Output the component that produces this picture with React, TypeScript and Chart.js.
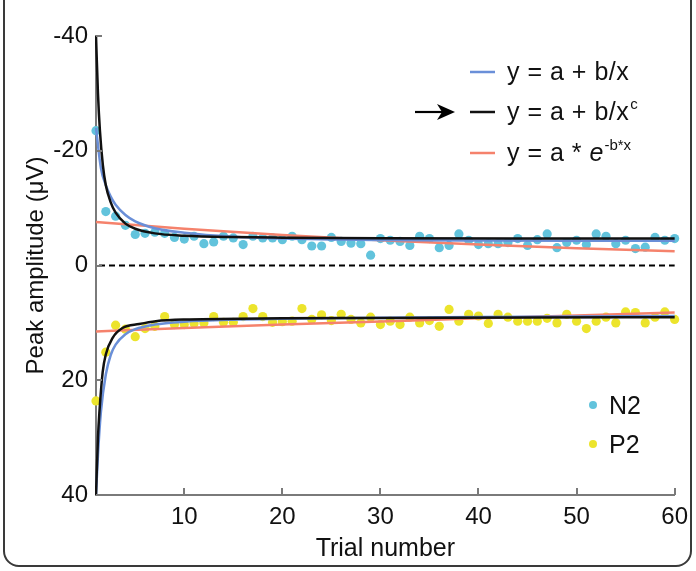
import React, { useEffect, useRef } from "react";
import { Chart, registerables } from "chart.js";

Chart.register(...registerables);

const trials = [
  1, 2, 3, 4, 5, 6, 7, 8, 9, 10, 11, 12, 13, 14, 15, 16, 17, 18, 19, 20,
  21, 22, 23, 24, 25, 26, 27, 28, 29, 30, 31, 32, 33, 34, 35, 36, 37, 38, 39, 40,
  41, 42, 43, 44, 45, 46, 47, 48, 49, 50, 51, 52, 53, 54, 55, 56, 57, 58, 59, 60,
];

const n2Values = [
  -23.5, -9.4, -8.6, -7.0, -5.4, -5.6, -5.8, -5.6, -4.9, -4.6,
  -5.1, -3.8, -4.1, -5.1, -4.8, -3.65, -5.1, -4.8, -4.8, -4.5,
  -5.1, -4.5, -3.4, -3.4, -4.9, -4.2, -3.9, -3.8, -1.8, -4.7,
  -4.4, -4.2, -3.5, -5.1, -4.7, -3.1, -3.5, -5.5, -4.4, -3.65,
  -3.8, -3.8, -4.0, -4.7, -3.5, -4.5, -5.5, -3.1, -4.0, -4.4,
  -3.65, -5.5, -5.1, -3.8, -4.4, -2.95, -3.2, -4.9, -4.4, -4.7,
];

const p2Values = [
  23.6, 15.1, 10.4, 11.1, 12.4, 11.0, 10.6, 8.9, 10.3, 10.3,
  10.1, 10.0, 8.9, 9.9, 9.9, 8.9, 7.5, 8.9, 9.9, 9.8,
  9.7, 7.5, 9.4, 8.6, 9.6, 8.5, 9.4, 10.0, 9.0, 10.3,
  9.7, 10.3, 9.0, 10.0, 9.6, 10.6, 7.65, 9.7, 8.5, 8.8,
  10.1, 8.5, 9.0, 9.7, 9.7, 9.7, 9.2, 10.0, 8.5, 9.7,
  11.0, 9.7, 9.0, 10.0, 8.1, 8.2, 10.0, 9.0, 8.1, 9.4,
];

// fitted curves at sample trial positions
const powerN2X = [1, 1.2, 1.4, 1.7, 2, 2.5, 3, 4, 5, 7, 10, 15, 20, 30, 45, 60];
const powerN2Y = [-40, -30, -23.5, -17.5, -14, -11, -9.2, -7.3, -6.4, -5.6, -5.2, -4.95, -4.85, -4.75, -4.7, -4.7];

const hyperN2X = [1, 1.5, 2, 2.5, 3, 4, 5, 7, 10, 15, 20, 30, 40, 50, 60];
const hyperN2Y = [-24, -17, -14, -12, -10.6, -8.8, -7.7, -6.5, -5.7, -5.0, -4.7, -4.45, -4.35, -4.3, -4.3];

const expN2X = [1, 10, 20, 30, 40, 50, 60];
const expN2Y = [-7.6, -6.4, -5.3, -4.4, -3.65, -3.0, -2.5];

const powerP2X = [1, 1.2, 1.35, 1.68, 2, 2.7, 3.7, 5.4, 7.1, 10.5, 20, 30, 45, 60];
const powerP2Y = [40, 30, 25.5, 18.6, 15.5, 12.6, 10.9, 10.2, 9.7, 9.4, 9.2, 9.15, 9.05, 9.0];

const hyperP2X = [1, 1.2, 1.5, 2, 2.5, 3, 4, 5, 7, 10, 15, 20, 30, 45, 60];
const hyperP2Y = [40, 33, 25.5, 19, 15.6, 13.8, 12.0, 11.1, 10.3, 9.8, 9.45, 9.3, 9.1, 8.95, 8.8];

const expP2X = [1, 10, 20, 30, 40, 50, 60];
const expP2Y = [11.5, 10.9, 10.3, 9.75, 9.2, 8.7, 8.2];

const xTickValues = [10, 20, 30, 40, 50, 60];
const yTickValues = [-40, -20, 0, 20, 40];

const legendFits = ["y = a + b/x", "y = a + b/x", "y = a * "];
const seriesNames = ["N2", "P2"];

const COL_N2 = "#62c3dc";
const COL_P2 = "#ece42c";
const COL_BLUE = "#6a8fd8";
const COL_BLACK = "#111111";
const COL_RED = "#f5826c";
const AXIS_COL = "#7a7a7a";
const FONT = '"Liberation Sans", Arial, Helvetica, sans-serif';

const pts = (xs: number[], ys: number[]) => xs.map((x, i) => ({ x, y: ys[i] }));

const decorPlugin = {
  id: "decor",
  beforeDatasetsDraw(chart: any) {
    const { ctx, chartArea, scales } = chart;
    const y0 = scales.y.getPixelForValue(0);
    ctx.save();
    ctx.strokeStyle = "#000";
    ctx.lineWidth = 2;
    ctx.setLineDash([6, 4]);
    ctx.beginPath();
    ctx.moveTo(chartArea.left + 3, y0);
    ctx.lineTo(chartArea.right, y0);
    ctx.stroke();
    ctx.restore();
  },
  afterDraw(chart: any) {
    const { ctx, chartArea, scales } = chart;
    ctx.save();
    // inward ticks
    ctx.strokeStyle = AXIS_COL;
    ctx.lineWidth = 2;
    ctx.beginPath();
    yTickValues.forEach((v) => {
      const py = Math.round(scales.y.getPixelForValue(v));
      ctx.moveTo(chartArea.left, py);
      ctx.lineTo(chartArea.left + 6, py);
    });
    xTickValues.forEach((v) => {
      const px = Math.round(scales.x.getPixelForValue(v));
      ctx.moveTo(px, chartArea.bottom);
      ctx.lineTo(px, chartArea.bottom - 7);
    });
    ctx.stroke();

    // fit legend
    const rows = [
      { y: 72, color: COL_BLUE },
      { y: 112, color: COL_BLACK },
      { y: 153, color: COL_RED },
    ];
    const fsz = 25;
    ctx.textBaseline = "alphabetic";
    ctx.textAlign = "left";
    rows.forEach((r, i) => {
      ctx.strokeStyle = r.color;
      ctx.lineWidth = 2.5;
      ctx.beginPath();
      ctx.moveTo(470, r.y);
      ctx.lineTo(495, r.y);
      ctx.stroke();
      ctx.fillStyle = "#111";
      ctx.font = `${fsz}px ${FONT}`;
      (ctx as any).letterSpacing = "0.5px";
      const base = r.y + 8;
      const txt = legendFits[i];
      ctx.fillText(txt, 507, base);
      const w = ctx.measureText(txt).width;
      (ctx as any).letterSpacing = "0px";
      if (i === 1) {
        ctx.font = `15px ${FONT}`;
        ctx.fillText("c", 507 + w + 1, base - 11);
      }
      if (i === 2) {
        ctx.font = `italic ${fsz}px ${FONT}`;
        ctx.fillText("e", 507 + w, base);
        const we = ctx.measureText("e").width;
        ctx.font = `15px ${FONT}`;
        ctx.fillText("-b*x", 507 + w + we + 1, base - 11);
      }
    });
    // arrow
    ctx.strokeStyle = "#000";
    ctx.fillStyle = "#000";
    ctx.lineWidth = 2.2;
    ctx.beginPath();
    ctx.moveTo(415, 112);
    ctx.lineTo(442, 112);
    ctx.stroke();
    ctx.beginPath();
    ctx.moveTo(455, 112);
    ctx.lineTo(437, 104);
    ctx.lineTo(442, 112);
    ctx.lineTo(437, 120);
    ctx.closePath();
    ctx.fill();

    // series legend
    const srows = [
      { y: 405, color: COL_N2 },
      { y: 444, color: COL_P2 },
    ];
    srows.forEach((r, i) => {
      ctx.fillStyle = r.color;
      ctx.beginPath();
      ctx.arc(593, r.y, 4, 0, Math.PI * 2);
      ctx.fill();
      ctx.fillStyle = "#111";
      ctx.font = `25px ${FONT}`;
      ctx.fillText(seriesNames[i], 609, r.y + 9);
    });
    ctx.restore();
  },
};

export default function App() {
  const ref = useRef<HTMLCanvasElement | null>(null);
  useEffect(() => {
    if (!ref.current) return;
    const lineDs = (label: string, data: any[], color: string, order: number) => ({
      label,
      data,
      showLine: true,
      borderColor: color,
      backgroundColor: color,
      borderWidth: 2.5,
      pointRadius: 0,
      cubicInterpolationMode: "monotone",
      order,
      clip: 1,
    });
    const chart = new Chart(ref.current, {
      type: "scatter",
      data: {
        datasets: [
          lineDs("pow N2", pts(powerN2X, powerN2Y), COL_BLACK, 0),
          lineDs("pow P2", pts(powerP2X, powerP2Y), COL_BLACK, 0),
          lineDs("hyp N2", pts(hyperN2X, hyperN2Y), COL_BLUE, 1),
          lineDs("hyp P2", pts(hyperP2X, hyperP2Y), COL_BLUE, 1),
          lineDs("exp N2", pts(expN2X, expN2Y), COL_RED, 2),
          lineDs("exp P2", pts(expP2X, expP2Y), COL_RED, 2),
          {
            label: "N2",
            data: pts(trials, n2Values),
            backgroundColor: COL_N2,
            borderWidth: 0,
            pointRadius: 4.6,
            order: 3,
            clip: false,
          },
          {
            label: "P2",
            data: pts(trials, p2Values),
            backgroundColor: COL_P2,
            borderWidth: 0,
            pointRadius: 4.6,
            order: 3,
            clip: false,
          },
        ] as any,
      },
      options: {
        animation: false,
        responsive: false,
        maintainAspectRatio: false,
        layout: { padding: { left: 0, right: 20, top: 36, bottom: 0 } },
        plugins: { legend: { display: false }, tooltip: { enabled: false } },
        scales: {
          x: {
            type: "linear",
            min: 1,
            max: 60,
            grid: { display: false, drawTicks: false },
            border: { display: true, color: AXIS_COL, width: 2 },
            afterBuildTicks: (s: any) => {
              s.ticks = xTickValues.map((v) => ({ value: v }));
            },
            afterFit: (s: any) => {
              s.height = 76;
            },
            ticks: {
              color: "#111",
              font: { family: FONT, size: 24 },
              padding: 8,
              maxRotation: 0,
              autoSkip: false,
            },
            title: {
              display: true,
              text: "Trial number",
              color: "#111",
              font: { family: FONT, size: 25 },
              padding: { top: 0, bottom: 7 },
            },
          },
          y: {
            type: "linear",
            min: -40,
            max: 40,
            reverse: true,
            grid: { display: false, drawTicks: false },
            border: { display: true, color: AXIS_COL, width: 2 },
            afterBuildTicks: (s: any) => {
              s.ticks = yTickValues.map((v) => ({ value: v }));
            },
            afterFit: (s: any) => {
              s.width = 96;
            },
            ticks: {
              color: "#111",
              font: { family: FONT, size: 24 },
              padding: 8,
              autoSkip: false,
            },
            title: {
              display: true,
              text: "Peak amplitude (μV)",
              color: "#111",
              font: { family: FONT, size: 24 },
              padding: { top: 22, bottom: 0 },
            },
          },
        },
      },
      plugins: [decorPlugin],
    } as any);
    return () => chart.destroy();
  }, []);

  return (
    <div style={{ position: "absolute", left: 0, top: 0, width: 696, height: 571, overflow: "hidden", background: "#fff" }}>
      <div
        style={{
          position: "absolute",
          left: 3,
          top: -30,
          width: 689,
          height: 597,
          border: "2px solid #3a3a3a",
          borderRadius: 16,
          boxSizing: "border-box",
        }}
      />
      <canvas ref={ref} width={696} height={571} style={{ position: "absolute", left: 0, top: 0, width: 696, height: 571 }} />
    </div>
  );
}
